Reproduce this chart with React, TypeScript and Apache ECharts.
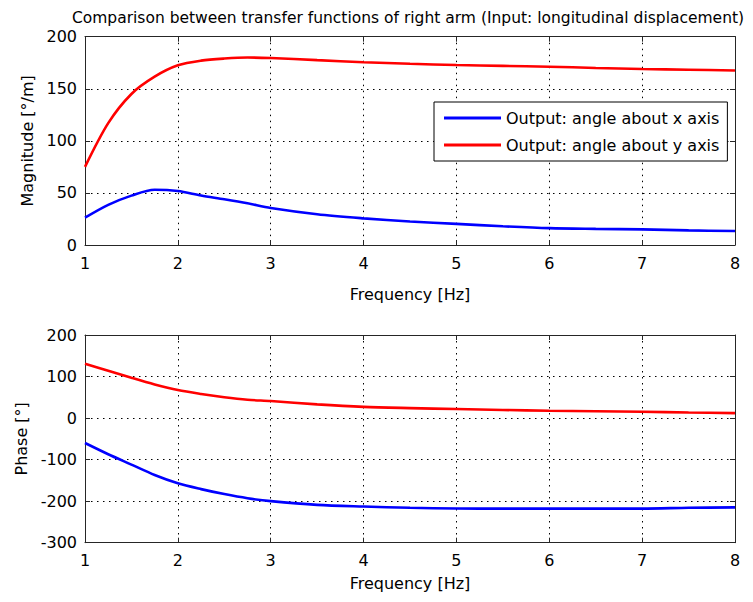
import React, { useEffect, useRef } from "react";
import * as echarts from "echarts";

const freq = [1, 1.25, 1.5, 1.75, 2, 2.25, 2.5, 2.75, 3, 3.5, 4, 4.5, 5, 5.5, 6, 6.5, 7, 7.5, 8];
const magX = [26.2, 38.5, 47.4, 53, 51.8, 47.5, 43.9, 40, 35.5, 29.5, 25.6, 22.5, 20.3, 18, 16.2, 15.5, 15, 14, 13.4];
const magY = [75, 117, 145, 161.6, 172.5, 177, 179, 180, 179.5, 177.5, 175.5, 174, 172.8, 172, 171.2, 170, 169, 168.3, 167.5];
const phaseX = [-60, -87, -112, -137, -157, -171, -183, -193, -200, -209, -213, -216, -217.5, -218, -218, -218, -218, -216, -215];
const phaseY = [131, 114, 97, 81, 67.5, 58, 50, 44, 41, 33, 27, 24, 21.7, 19.5, 17.6, 16.5, 15.2, 13.5, 12];
const nameX = "Output: angle about x axis";
const nameY = "Output: angle about y axis";
const titleText = "Comparison between transfer functions of right arm (Input: longitudinal displacement)";

const FONT = "DejaVu Sans";
const FS = 16;

const pairs = (ys: number[]) => freq.map((f, i) => [f, ys[i]]);

export default function App() {
  const ref = useRef<HTMLDivElement>(null);
  useEffect(() => {
    const chart = echarts.init(ref.current!, null, { renderer: "svg" });
    const axisLine = { show: true, onZero: false, lineStyle: { color: "#262626", width: 1 } };
    const tick = { show: true, inside: true, length: 5, lineStyle: { color: "#262626" } };
    const grid = { show: true, lineStyle: { color: "#000", width: 1, type: [1.5, 4.5] } };
    const lbl = { color: "#000", fontSize: FS, fontFamily: FONT };
    const mkX = (gi: number, nameGap: number) => [
      {
        type: "value", gridIndex: gi, min: 1, max: 8, interval: 1, position: "bottom",
        name: "Frequency [Hz]", nameLocation: "middle", nameGap,
        nameTextStyle: { ...lbl },
        axisLine, axisTick: tick, splitLine: grid,
        axisLabel: { ...lbl, margin: 10 },
      },
      {
        type: "value", gridIndex: gi, min: 1, max: 8, interval: 1, position: "top",
        axisLine, axisTick: tick, splitLine: { show: false }, axisLabel: { show: false },
      },
    ];
    const mkY = (gi: number, min: number, max: number, interval: number, name: string, nameGap: number) => [
      {
        type: "value", gridIndex: gi, min, max, interval, position: "left",
        name, nameLocation: "middle", nameGap, nameTextStyle: { ...lbl },
        axisLine, axisTick: tick, splitLine: grid,
        axisLabel: { ...lbl, margin: 8 },
      },
      {
        type: "value", gridIndex: gi, min, max, interval, position: "right",
        axisLine, axisTick: tick, splitLine: { show: false }, axisLabel: { show: false },
      },
    ];
    const line = (name: string, color: string, xi: number, yi: number, data: number[]) => ({
      type: "line", name, xAxisIndex: xi, yAxisIndex: yi, data: pairs(data),
      showSymbol: false, smooth: 0.3, color,
      lineStyle: { color, width: 2.6 },
    });
    chart.setOption({
      animation: false,
      backgroundColor: "#fff",
      title: {
        text: titleText, left: 403, top: 5, textAlign: "center",
        textStyle: { fontSize: 15.5, fontWeight: "normal", color: "#000", fontFamily: FONT },
      },
      legend: {
        data: [nameX, nameY], orient: "vertical", left: 434, top: 102,
        backgroundColor: "#fff", borderColor: "#000", borderWidth: 1,
        padding: [8, 8, 8, 10], itemWidth: 57, itemHeight: 3, itemGap: 11, icon: "rect",
        textStyle: { ...lbl, padding: [0, 0, 0, 0] },
      },
      grid: [
        { left: 85, top: 36.7, width: 650, height: 208.3 },
        { left: 85, top: 335, width: 650, height: 207.7 },
      ],
      xAxis: [...mkX(0, 41), ...mkX(1, 33)],
      yAxis: [
        ...mkY(0, 0, 200, 50, "Magnitude [°/m]", 50),
        ...mkY(1, -300, 200, 100, "Phase [°]", 56),
      ],
      series: [
        line(nameX, "#0000ff", 0, 0, magX),
        line(nameY, "#ff0000", 0, 0, magY),
        line(nameX, "#0000ff", 2, 2, phaseX),
        line(nameY, "#ff0000", 2, 2, phaseY),
      ],
    });
    return () => chart.dispose();
  }, []);
  return <div ref={ref} style={{ position: "fixed", left: 0, top: 0, width: 753, height: 602 }} />;
}
